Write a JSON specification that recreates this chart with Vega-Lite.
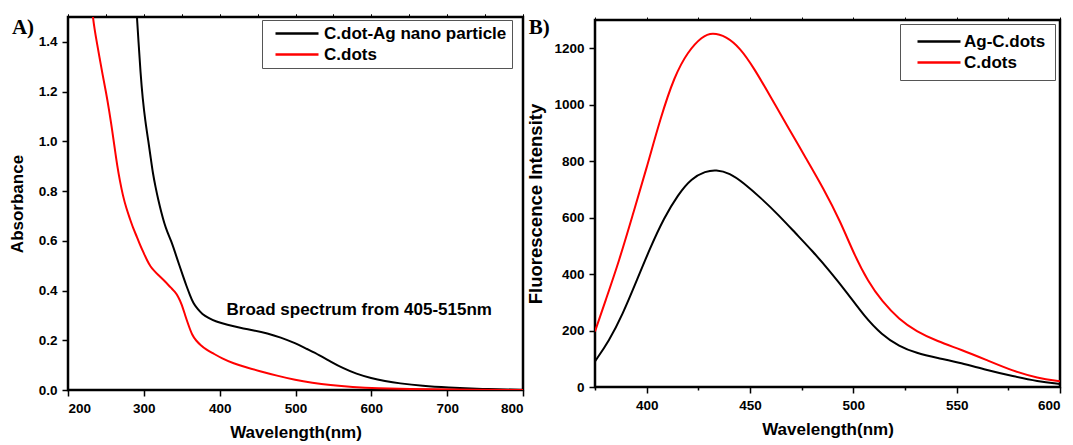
{
  "$schema": "https://vega.github.io/schema/vega-lite/v6.json",
  "padding": {"left": 6, "top": 12, "right": 5, "bottom": 2},
  "bounds": "flush",
  "spacing": 72,
  "center": true,
  "resolve": {"scale": {"color": "independent"}},
  "config": {
    "view": {"stroke": "black", "strokeWidth": 2.5},
    "axis": {
      "domain": false, "grid": false,
      "tickColor": "black", "tickWidth": 1.5, "tickSize": 6,
      "labelFont": "Liberation Sans", "labelFontWeight": "bold", "labelFontSize": 13.5, "labelColor": "black", "labelPadding": 5,
      "titleFont": "Liberation Sans", "titleFontWeight": "bold", "titleFontSize": 17, "titleColor": "black"
    },
    "legend": {
      "title": null,
      "labelFont": "Liberation Sans", "labelFontWeight": "bold", "labelFontSize": 17, "labelColor": "black", "labelLimit": 400,
      "symbolType": "M0,0H8.6", "symbolSize": 100, "symbolStrokeWidth": 2.5,
      "strokeColor": "#555555", "fillColor": "white", "rowPadding": 3
    }
  },
  "datasets": {
    "abs": [
      {"series": "C.dot-Ag nano particle", "nm": 290.5, "a": 1.52},
      {"series": "C.dot-Ag nano particle", "nm": 293, "a": 1.40},
      {"series": "C.dot-Ag nano particle", "nm": 295.5, "a": 1.28},
      {"series": "C.dot-Ag nano particle", "nm": 298.5, "a": 1.17},
      {"series": "C.dot-Ag nano particle", "nm": 302, "a": 1.08},
      {"series": "C.dot-Ag nano particle", "nm": 306, "a": 1.0},
      {"series": "C.dot-Ag nano particle", "nm": 309, "a": 0.935},
      {"series": "C.dot-Ag nano particle", "nm": 312, "a": 0.87},
      {"series": "C.dot-Ag nano particle", "nm": 315.5, "a": 0.815},
      {"series": "C.dot-Ag nano particle", "nm": 319, "a": 0.765},
      {"series": "C.dot-Ag nano particle", "nm": 323, "a": 0.715},
      {"series": "C.dot-Ag nano particle", "nm": 327, "a": 0.67},
      {"series": "C.dot-Ag nano particle", "nm": 331, "a": 0.635},
      {"series": "C.dot-Ag nano particle", "nm": 336, "a": 0.60},
      {"series": "C.dot-Ag nano particle", "nm": 341, "a": 0.555},
      {"series": "C.dot-Ag nano particle", "nm": 347, "a": 0.50},
      {"series": "C.dot-Ag nano particle", "nm": 352, "a": 0.455},
      {"series": "C.dot-Ag nano particle", "nm": 356, "a": 0.42},
      {"series": "C.dot-Ag nano particle", "nm": 361, "a": 0.38},
      {"series": "C.dot-Ag nano particle", "nm": 365, "a": 0.35},
      {"series": "C.dot-Ag nano particle", "nm": 371, "a": 0.325},
      {"series": "C.dot-Ag nano particle", "nm": 377, "a": 0.305},
      {"series": "C.dot-Ag nano particle", "nm": 385, "a": 0.29},
      {"series": "C.dot-Ag nano particle", "nm": 395, "a": 0.275},
      {"series": "C.dot-Ag nano particle", "nm": 410, "a": 0.262},
      {"series": "C.dot-Ag nano particle", "nm": 427, "a": 0.25},
      {"series": "C.dot-Ag nano particle", "nm": 445, "a": 0.24},
      {"series": "C.dot-Ag nano particle", "nm": 463, "a": 0.228},
      {"series": "C.dot-Ag nano particle", "nm": 480, "a": 0.212},
      {"series": "C.dot-Ag nano particle", "nm": 500, "a": 0.188},
      {"series": "C.dot-Ag nano particle", "nm": 515, "a": 0.165},
      {"series": "C.dot-Ag nano particle", "nm": 531, "a": 0.141},
      {"series": "C.dot-Ag nano particle", "nm": 547, "a": 0.113},
      {"series": "C.dot-Ag nano particle", "nm": 563, "a": 0.087},
      {"series": "C.dot-Ag nano particle", "nm": 580, "a": 0.065},
      {"series": "C.dot-Ag nano particle", "nm": 600, "a": 0.047},
      {"series": "C.dot-Ag nano particle", "nm": 618, "a": 0.036},
      {"series": "C.dot-Ag nano particle", "nm": 636, "a": 0.027},
      {"series": "C.dot-Ag nano particle", "nm": 668, "a": 0.016},
      {"series": "C.dot-Ag nano particle", "nm": 700, "a": 0.010},
      {"series": "C.dot-Ag nano particle", "nm": 745, "a": 0.004},
      {"series": "C.dot-Ag nano particle", "nm": 800, "a": 0.0},
      {"series": "C.dots", "nm": 232.5, "a": 1.51},
      {"series": "C.dots", "nm": 235, "a": 1.45},
      {"series": "C.dots", "nm": 238.5, "a": 1.39},
      {"series": "C.dots", "nm": 242, "a": 1.33},
      {"series": "C.dots", "nm": 245.5, "a": 1.27},
      {"series": "C.dots", "nm": 250, "a": 1.20},
      {"series": "C.dots", "nm": 254.5, "a": 1.12},
      {"series": "C.dots", "nm": 258, "a": 1.05},
      {"series": "C.dots", "nm": 261.5, "a": 0.975},
      {"series": "C.dots", "nm": 265, "a": 0.90},
      {"series": "C.dots", "nm": 268.5, "a": 0.84},
      {"series": "C.dots", "nm": 272.5, "a": 0.78},
      {"series": "C.dots", "nm": 277, "a": 0.73},
      {"series": "C.dots", "nm": 281.5, "a": 0.69},
      {"series": "C.dots", "nm": 286, "a": 0.65},
      {"series": "C.dots", "nm": 291, "a": 0.615},
      {"series": "C.dots", "nm": 295.5, "a": 0.58},
      {"series": "C.dots", "nm": 300, "a": 0.55},
      {"series": "C.dots", "nm": 304.5, "a": 0.52},
      {"series": "C.dots", "nm": 309, "a": 0.495},
      {"series": "C.dots", "nm": 313.5, "a": 0.48},
      {"series": "C.dots", "nm": 318, "a": 0.465},
      {"series": "C.dots", "nm": 327, "a": 0.44},
      {"series": "C.dots", "nm": 336, "a": 0.41},
      {"series": "C.dots", "nm": 341, "a": 0.395},
      {"series": "C.dots", "nm": 345.5, "a": 0.375},
      {"series": "C.dots", "nm": 350, "a": 0.345},
      {"series": "C.dots", "nm": 354.5, "a": 0.30},
      {"series": "C.dots", "nm": 359, "a": 0.26},
      {"series": "C.dots", "nm": 363.5, "a": 0.222},
      {"series": "C.dots", "nm": 369, "a": 0.198},
      {"series": "C.dots", "nm": 375, "a": 0.18},
      {"series": "C.dots", "nm": 382, "a": 0.163},
      {"series": "C.dots", "nm": 391, "a": 0.148},
      {"series": "C.dots", "nm": 403, "a": 0.127},
      {"series": "C.dots", "nm": 418, "a": 0.107},
      {"series": "C.dots", "nm": 436, "a": 0.09},
      {"series": "C.dots", "nm": 454, "a": 0.075},
      {"series": "C.dots", "nm": 475, "a": 0.058},
      {"series": "C.dots", "nm": 500, "a": 0.04},
      {"series": "C.dots", "nm": 522, "a": 0.029},
      {"series": "C.dots", "nm": 545, "a": 0.02},
      {"series": "C.dots", "nm": 575, "a": 0.012},
      {"series": "C.dots", "nm": 608, "a": 0.007},
      {"series": "C.dots", "nm": 650, "a": 0.004},
      {"series": "C.dots", "nm": 700, "a": 0.002},
      {"series": "C.dots", "nm": 800, "a": 0.0}
    ],
    "fl": [
      {"series": "Ag-C.dots", "nm": 375, "i": 91},
      {"series": "Ag-C.dots", "nm": 381.7, "i": 162},
      {"series": "Ag-C.dots", "nm": 388.3, "i": 256},
      {"series": "Ag-C.dots", "nm": 395, "i": 374},
      {"series": "Ag-C.dots", "nm": 401.7, "i": 493},
      {"series": "Ag-C.dots", "nm": 408.4, "i": 599},
      {"series": "Ag-C.dots", "nm": 415.1, "i": 681},
      {"series": "Ag-C.dots", "nm": 421.8, "i": 740},
      {"series": "Ag-C.dots", "nm": 428.5, "i": 764},
      {"series": "Ag-C.dots", "nm": 433.5, "i": 770},
      {"series": "Ag-C.dots", "nm": 440.2, "i": 758},
      {"series": "Ag-C.dots", "nm": 446.9, "i": 723},
      {"series": "Ag-C.dots", "nm": 455.2, "i": 670},
      {"series": "Ag-C.dots", "nm": 463.6, "i": 611},
      {"series": "Ag-C.dots", "nm": 472, "i": 545},
      {"series": "Ag-C.dots", "nm": 480.3, "i": 481},
      {"series": "Ag-C.dots", "nm": 488.7, "i": 410},
      {"series": "Ag-C.dots", "nm": 497.1, "i": 333},
      {"series": "Ag-C.dots", "nm": 505.4, "i": 250},
      {"series": "Ag-C.dots", "nm": 513.8, "i": 185},
      {"series": "Ag-C.dots", "nm": 522.2, "i": 144},
      {"series": "Ag-C.dots", "nm": 530.5, "i": 120},
      {"series": "Ag-C.dots", "nm": 540.6, "i": 103},
      {"series": "Ag-C.dots", "nm": 552.3, "i": 85},
      {"series": "Ag-C.dots", "nm": 564, "i": 61},
      {"series": "Ag-C.dots", "nm": 577.4, "i": 38},
      {"series": "Ag-C.dots", "nm": 589.1, "i": 20},
      {"series": "Ag-C.dots", "nm": 600, "i": 11},
      {"series": "C.dots", "nm": 375, "i": 197},
      {"series": "C.dots", "nm": 380, "i": 304},
      {"series": "C.dots", "nm": 386.6, "i": 445},
      {"series": "C.dots", "nm": 393.3, "i": 611},
      {"series": "C.dots", "nm": 400, "i": 776},
      {"series": "C.dots", "nm": 406.7, "i": 953},
      {"series": "C.dots", "nm": 413.4, "i": 1101},
      {"series": "C.dots", "nm": 420, "i": 1189},
      {"series": "C.dots", "nm": 426.8, "i": 1242},
      {"series": "C.dots", "nm": 431.8, "i": 1256},
      {"series": "C.dots", "nm": 438.5, "i": 1242},
      {"series": "C.dots", "nm": 445.2, "i": 1201},
      {"series": "C.dots", "nm": 451.9, "i": 1130},
      {"series": "C.dots", "nm": 460.3, "i": 1024},
      {"series": "C.dots", "nm": 468.6, "i": 918},
      {"series": "C.dots", "nm": 477, "i": 811},
      {"series": "C.dots", "nm": 485.4, "i": 705},
      {"series": "C.dots", "nm": 493.7, "i": 587},
      {"series": "C.dots", "nm": 500.4, "i": 469},
      {"series": "C.dots", "nm": 507.1, "i": 374},
      {"series": "C.dots", "nm": 513.8, "i": 304},
      {"series": "C.dots", "nm": 522.2, "i": 239},
      {"series": "C.dots", "nm": 530.5, "i": 197},
      {"series": "C.dots", "nm": 540.6, "i": 162},
      {"series": "C.dots", "nm": 552.3, "i": 132},
      {"series": "C.dots", "nm": 564, "i": 97},
      {"series": "C.dots", "nm": 577.4, "i": 56},
      {"series": "C.dots", "nm": 589.1, "i": 32},
      {"series": "C.dots", "nm": 600, "i": 20}
    ],
    "noteA": [{"label": "Broad spectrum from 405-515nm", "nm": 409, "a": 0.322}],
    "tagA": [{"label": "A)", "nm": 126, "a": 1.43}],
    "tagB": [{"label": "B)", "nm": 343, "i": 1250}]
  },
  "hconcat": [
    {
      "width": 455,
      "height": 373,
      "layer": [
        {
          "data": {"name": "abs"},
          "mark": {"type": "line", "strokeWidth": 2, "clip": true, "interpolate": "basis"},
          "encoding": {
            "x": {"field": "nm", "type": "quantitative", "scale": {"domain": [200, 800], "nice": false},
                  "axis": {"orient": "bottom", "title": "Wavelength(nm)", "values": [200, 300, 400, 500, 600, 700, 800], "titlePadding": 10}},
            "y": {"field": "a", "type": "quantitative", "scale": {"domain": [0, 1.5], "nice": false},
                  "axis": {"orient": "left", "title": "Absorbance", "values": [0, 0.2, 0.4, 0.6, 0.8, 1.0, 1.2, 1.4], "format": ".1f", "titlePadding": 12}},
            "color": {"field": "series", "type": "nominal",
                      "scale": {"domain": ["C.dot-Ag nano particle", "C.dots"], "range": ["#000000", "#ff0000"]},
                      "legend": {"orient": "none", "legendX": 194, "legendY": 3, "padding": 5, "labelOffset": 40,
                                 "labelExpr": "datum.label + '\u00a0'"}}
          }
        },
        {
          "data": {"name": "noteA"},
          "mark": {"type": "text", "align": "left", "baseline": "middle", "font": "Liberation Sans", "fontWeight": "bold", "fontSize": 17, "color": "black"},
          "encoding": {
            "x": {"field": "nm", "type": "quantitative",
                  "axis": {"orient": "top", "title": null, "labels": false, "values": [200, 250, 300, 350, 400, 450, 500, 550, 600, 650, 700, 750, 800], "tickSize": 3, "tickWidth": 1}},
            "y": {"field": "a", "type": "quantitative",
                  "axis": {"orient": "left", "title": "Absorbance", "values": [0, 0.2, 0.4, 0.6, 0.8, 1.0, 1.2, 1.4], "format": ".1f", "titlePadding": 12}},
            "text": {"field": "label"}
          }
        },
        {
          "data": {"name": "tagA"},
          "mark": {"type": "text", "align": "left", "baseline": "alphabetic", "font": "Liberation Serif", "fontWeight": "bold", "fontSize": 21, "color": "black"},
          "encoding": {
            "x": {"field": "nm", "type": "quantitative",
                  "axis": {"orient": "top", "title": null, "labels": false, "values": [200, 250, 300, 350, 400, 450, 500, 550, 600, 650, 700, 750, 800], "tickSize": 3, "tickWidth": 1}},
            "y": {"field": "a", "type": "quantitative",
                  "axis": {"orient": "left", "title": "Absorbance", "values": [0, 0.2, 0.4, 0.6, 0.8, 1.0, 1.2, 1.4], "format": ".1f", "titlePadding": 12}},
            "text": {"field": "label"}
          }
        }
      ]
    },
    {
      "width": 465,
      "height": 367,
      "layer": [
        {
          "data": {"name": "fl"},
          "mark": {"type": "line", "strokeWidth": 2, "clip": true, "interpolate": "basis"},
          "encoding": {
            "x": {"field": "nm", "type": "quantitative", "scale": {"domain": [375, 600], "nice": false},
                  "axis": {"orient": "bottom", "title": "Wavelength(nm)", "values": [375, 400, 425, 450, 475, 500, 525, 550, 575, 600],
                           "labelExpr": "datum.value % 50 === 0 ? datum.label : ''",
                           "tickSize": {"condition": {"test": "datum.value % 50 === 0", "value": 6}, "value": 3},
                           "titlePadding": 10}},
            "y": {"field": "i", "type": "quantitative", "scale": {"domain": [0, 1300], "nice": false},
                  "axis": {"orient": "left", "title": "Fluorescence Intensity", "titleFontSize": 18.5, "values": [0, 200, 400, 600, 800, 1000, 1200], "format": "d", "titlePadding": 8}},
            "color": {"field": "series", "type": "nominal",
                      "scale": {"domain": ["Ag-C.dots", "C.dots"], "range": ["#000000", "#ff0000"]},
                      "legend": {"orient": "none", "legendX": 305, "legendY": 4, "padding": 9, "labelOffset": 38}}
          }
        },
        {
          "data": {"name": "tagB"},
          "mark": {"type": "text", "align": "left", "baseline": "alphabetic", "font": "Liberation Serif", "fontWeight": "bold", "fontSize": 21, "color": "black"},
          "encoding": {
            "x": {"field": "nm", "type": "quantitative",
                  "axis": {"orient": "top", "title": null, "labels": false, "values": [375, 400, 425, 450, 475, 500, 525, 550, 575, 600], "tickSize": 3, "tickWidth": 1}},
            "y": {"field": "i", "type": "quantitative",
                  "axis": {"orient": "left", "title": "Fluorescence Intensity", "titleFontSize": 18.5, "values": [0, 200, 400, 600, 800, 1000, 1200], "format": "d", "titlePadding": 8}},
            "text": {"field": "label"}
          }
        }
      ]
    }
  ]
}
